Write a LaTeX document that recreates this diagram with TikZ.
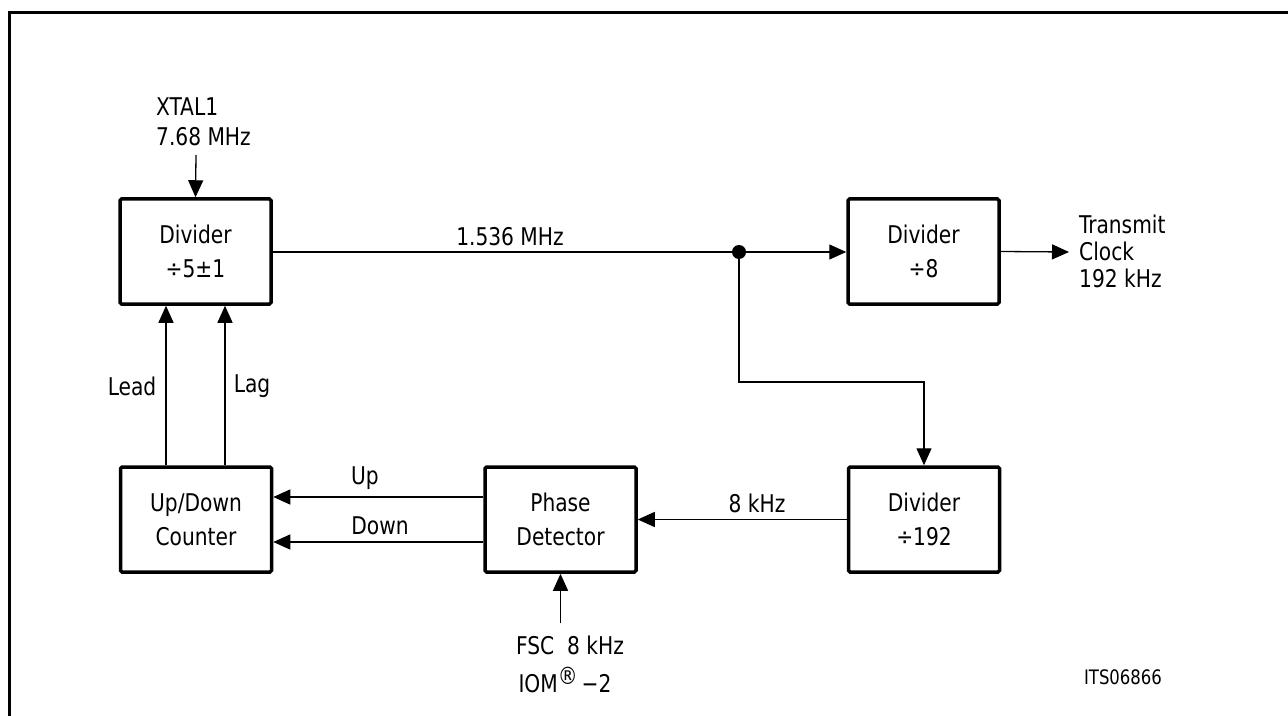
\documentclass[tikz,border=0pt]{standalone}
\usepackage{fontspec}
\setmainfont{DejaVu Sans Condensed}[FakeStretch=0.92]
\usetikzlibrary{arrows.meta,calc}
\begin{document}
\begin{tikzpicture}[x=1bp,y=-1bp,
  blk/.style={draw,line width=3.5bp,rounded corners=1.5bp,minimum width=151bp,minimum height=105bp,inner sep=0pt,align=center,font=\fontsize{24.5}{34}\selectfont},
  wire/.style={line width=1.3bp},
  arr/.style={wire,-{Triangle[length=17bp,width=15bp]}},
  lbl/.style={inner sep=0pt,font=\fontsize{24.5}{28}\selectfont,align=left}]
\useasboundingbox (0,0) rectangle (1288,716);
\draw[line width=3bp] (9,716) -- (9,13) -- (1288,13);
% blocks
\node[blk] (div5) at (195.5,251.5) {Divider\\÷5±1};
\node[blk] (div8) at (923.5,251.5) {Divider\\÷8};
\node[blk] (ud) at (196,519.5) {Up/Down\\Counter};
\node[blk] (pd) at (560.5,519.5) {Phase\\Detector};
\node[blk] (div192) at (924,519.5) {Divider\\÷192};
% coordinates
\coordinate (xtal) at (196,155);
\coordinate (dot) at (739,252);
\coordinate (bend) at (739,382);
\coordinate (tx) at (1069,252);
\coordinate (fsc) at (560.5,623);
% connectors
\draw[arr] (xtal) -- (div5.north);
\draw[wire] (div5.east |- dot) -- (dot);
\draw[arr] (dot) -- (div8.west |- dot);
\fill (dot) circle (7bp);
\draw[arr] (dot) -- (bend) -| (div192.north);
\draw[arr] (div8.east) -- (tx);
\draw[arr] (div192.west) -- (pd.east);
\draw[arr] (pd.west |- 0,497) -- (ud.east |- 0,497);
\draw[arr] (pd.west |- 0,542) -- (ud.east |- 0,542);
\draw[arr] (ud.north -| 166,0) -- (div5.south -| 166,0);
\draw[arr] (ud.north -| 225,0) -- (div5.south -| 225,0);
\draw[arr] (fsc) -- (pd.south);
% labels
\node[lbl,anchor=west] (lx1) at (156,107) {XTAL1};
\node[lbl,anchor=west] (lx2) at (156,137) {7.68 MHz};
\node[lbl] (lf) at (510,237) {1.536 MHz};
\node[lbl,anchor=west] (lt1) at (1079,224) {Transmit};
\node[lbl,anchor=west] (lt2) at (1079,251) {Clock};
\node[lbl,anchor=west] (lt3) at (1079,278) {192 kHz};
\node[lbl] (llead) at (132,386) {Lead};
\node[lbl] (llag) at (252,386) {Lag};
\node[lbl] (lup) at (365,478) {Up};
\node[lbl] (ldown) at (380,526) {Down};
\node[lbl] (l8k) at (757,503) {8 kHz};
\node[lbl] (lfsc) at (570,645) {FSC\ \ 8 kHz};
\node[lbl] (liom) at (565,680) {IOM\raisebox{0.55ex}{\fontsize{24}{24}\selectfont ®}\,−2};
\node[lbl,font=\fontsize{20}{24}\selectfont] (lits) at (1123,677) {ITS06866};
\end{tikzpicture}
\end{document}
